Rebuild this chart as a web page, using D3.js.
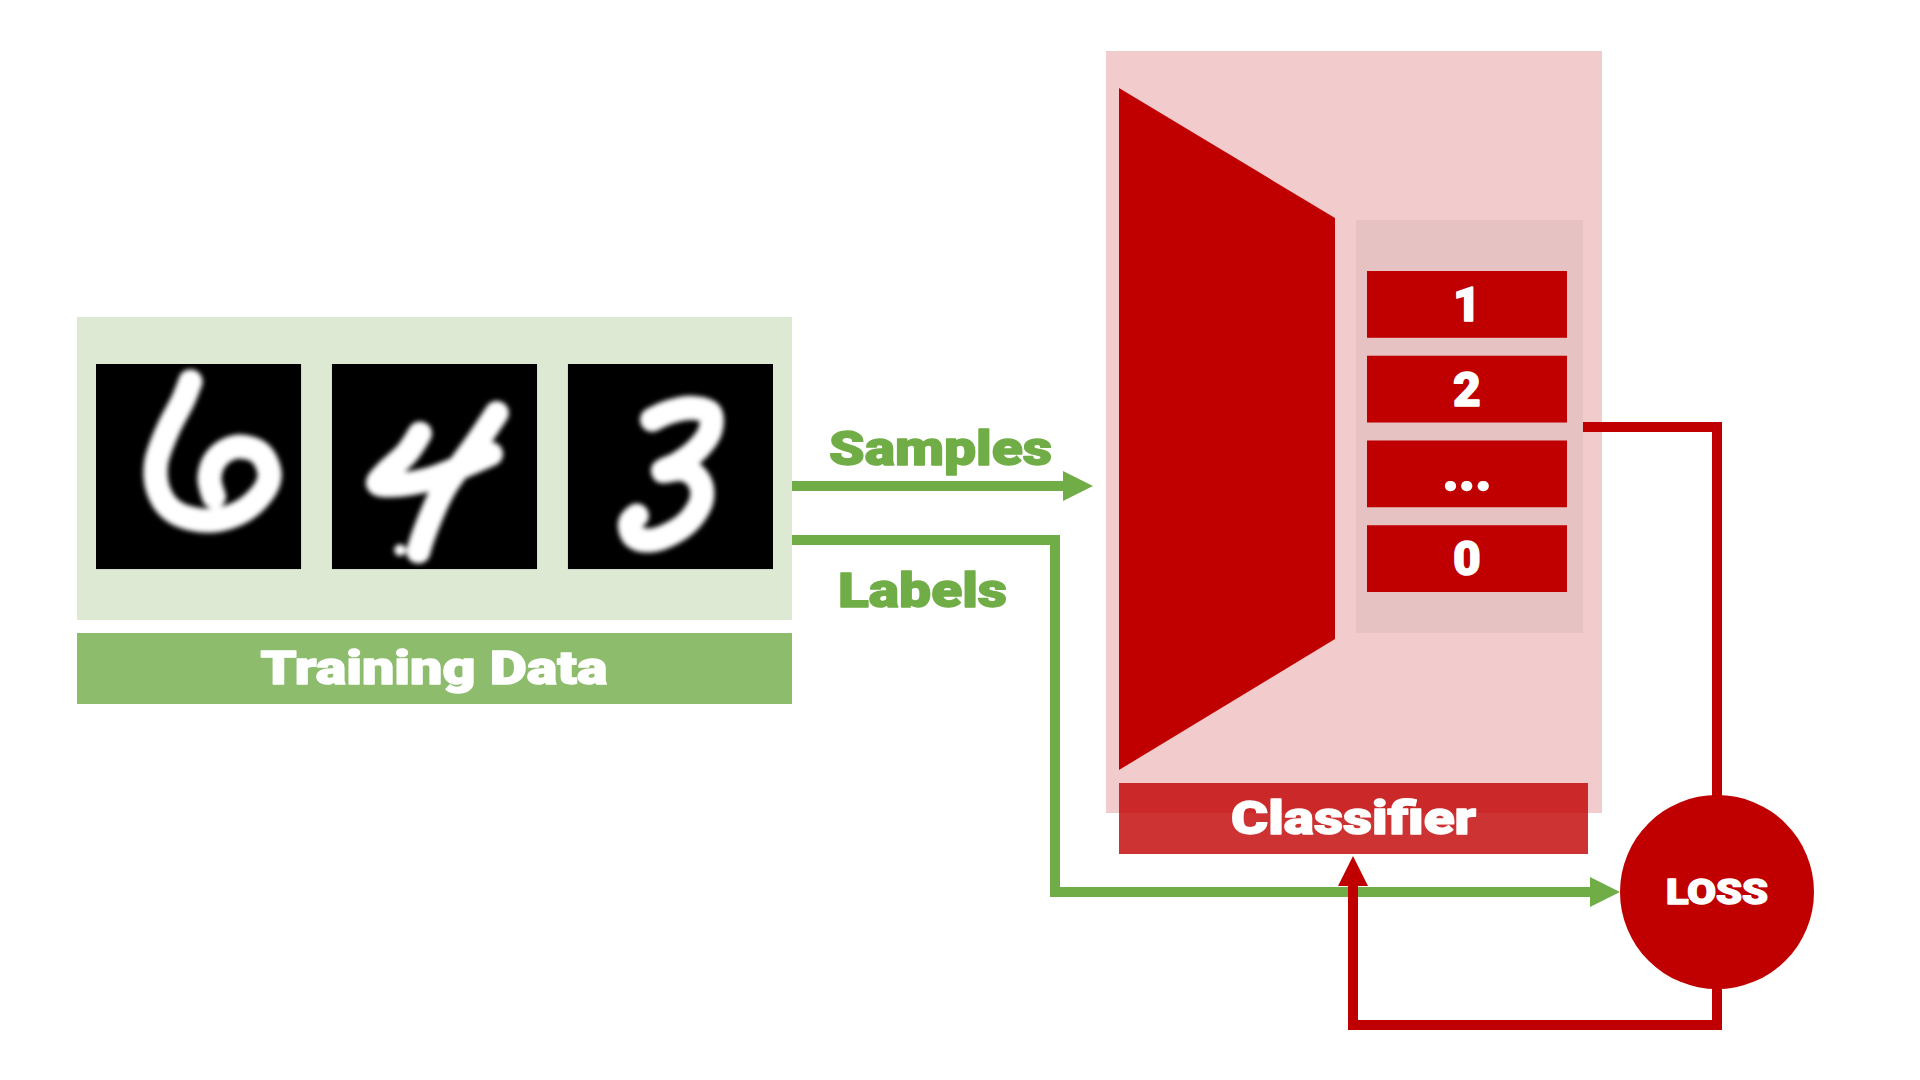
<!DOCTYPE html>
<html>
<head>
<meta charset="utf-8">
<title>Classifier training</title>
<script src="https://cdn.jsdelivr.net/npm/d3@7"></script>
<style>
    html, body { margin: 0; padding: 0; background: #fff; overflow: hidden; }
    svg { display: block; }
</style>
</head>
<body>
<svg id="chart" width="1920" height="1080"></svg>
<script>

// sample images, strokes in 28x28 MNIST pixel space
var sampleDigits   = ['6', '4', '3'];
var sixStroke      = [[12.9, 2.4], [11.9, 4.9], [9.8, 9.0], [8.2, 13.6], [8.5, 17.2], [10.3, 19.9],
                      [14.0, 21.3], [18.2, 20.9], [21.9, 18.6], [23.7, 15.4], [22.4, 12.2],
                      [19.2, 11.3], [16.6, 12.7], [15.5, 15.4], [16.1, 18.1]];
var fourBarStroke  = [[12.0, 9.5], [10.2, 12.2], [7.3, 14.9], [6.3, 16.3], [8.9, 16.5],
                      [13.1, 15.8], [17.8, 14.0], [21.7, 12.3]];
var fourStemStroke = [[22.5, 6.7], [19.4, 11.3], [15.2, 17.2], [12.6, 23.1], [11.8, 25.6]];
var fourDots       = [[9.3, 25.4]];
var threeStroke    = [[11.5, 7.6], [14.0, 6.5], [17.1, 6.0], [19.4, 6.7], [19.4, 9.2], [17.6, 11.7],
                      [14.9, 13.7], [13.0, 14.6], [15.8, 14.4], [17.8, 15.8], [18.3, 18.3],
                      [16.9, 21.0], [14.4, 23.0], [11.2, 24.1], [9.0, 23.5], [8.5, 21.7], [9.4, 20.7]];
var digitStrokes   = [[sixStroke], [fourBarStroke, fourStemStroke], [threeStroke]];
var digitDots      = [[], fourDots, []];

// classifier outputs and labels
var outputClasses  = ['1', '2', '...', '0'];
var flowLabels     = ['Samples', 'Labels'];
var blockTitles    = ['Training Data', 'Classifier'];
var lossLabel      = 'LOSS';

(function (context, d3, undefined) {

'use strict';

var GREEN = '#70ad47',
    RED   = '#c00000',
    FONT  = '"Arial Black", "Roboto", "Lato", "Inter", sans-serif';

var svg  = d3.select('#chart'),
    defs = svg.append('defs');

svg.append('rect').attr('width', 1920).attr('height', 1080).attr('fill', '#fff');

// layout boxes
var dataBox   = {x: 77, y: 317, w: 715, h: 303},
    dataTitle = {x: 77, y: 633, w: 715, h: 71},
    imgRow    = {x0: 96, x1: 773, y: 364},
    modelBox  = {x: 1106, y: 51, w: 496, h: 762},
    outBox    = {x: 1356, y: 220, w: 227, h: 413},
    modelBar  = {x: 1119, y: 783, w: 469, h: 71},
    loss      = {cx: 1717, cy: 892, r: 97};

defs.append('filter').attr('id', 'soft')
    .attr('x', '-20%').attr('y', '-20%').attr('width', '140%').attr('height', '140%')
    .append('feGaussianBlur').attr('stdDeviation', 2.6);

function addMarker(id, color) {
    defs.append('marker')
        .attr('id', id)
        .attr('viewBox', '0 0 30 30')
        .attr('refX', 0).attr('refY', 15)
        .attr('markerWidth', 30).attr('markerHeight', 30)
        .attr('markerUnits', 'userSpaceOnUse')
        .attr('orient', 'auto')
      .append('path')
        .attr('d', 'M0,0L30,15L0,30Z')
        .attr('fill', color);
}
addMarker('head-green', GREEN);
addMarker('head-red', RED);

// heavy text: a thin outline in the fill colour thickens the glyphs
function heavy(sel, color) {
    return sel
        .attr('font-family', FONT)
        .attr('font-weight', 900)
        .attr('fill', color)
        .attr('stroke', color)
        .attr('stroke-width', 1.4)
        .attr('stroke-linejoin', 'round');
}

function label(text, cx, baseline, size, color, len) {
    var t = svg.append('text')
        .attr('x', cx).attr('y', baseline)
        .attr('text-anchor', 'middle')
        .attr('font-size', size)
        .text(text);
    heavy(t, color);
    if (len) {
        t.attr('textLength', len).attr('lengthAdjust', 'spacingAndGlyphs');
    }
    return t;
}

// --- training data block ---
svg.append('rect')
    .attr('x', dataBox.x).attr('y', dataBox.y).attr('width', dataBox.w).attr('height', dataBox.h)
    .attr('fill', '#dde9d3');

svg.append('rect')
    .attr('x', dataTitle.x).attr('y', dataTitle.y).attr('width', dataTitle.w).attr('height', dataTitle.h)
    .attr('fill', '#8dbc6d');

var imgX = d3.scaleBand()
    .domain(sampleDigits)
    .range([imgRow.x0, imgRow.x1])
    .paddingInner(0.131);

var size = imgX.bandwidth();

var line = d3.line().curve(d3.curveCatmullRom.alpha(0.5));

var cells = svg.selectAll('g.digit')
    .data(sampleDigits)
  .enter().append('g')
    .attr('class', 'digit')
    .attr('transform', function (d) { return 'translate(' + imgX(d) + ',' + imgRow.y + ')'; });

cells.append('rect')
    .attr('width', size).attr('height', size)
    .attr('fill', '#000');

cells.each(function (d, i) {
    var px = d3.scaleLinear().domain([0, 28]).range([0, size]),
        g  = d3.select(this).append('g').attr('filter', 'url(#soft)');

    g.selectAll('path')
        .data(digitStrokes[i])
      .enter().append('path')
        .attr('d', function (pts) { return line(pts.map(function (p) { return [px(p[0]), px(p[1])]; })); })
        .attr('fill', 'none')
        .attr('stroke', '#fff')
        .attr('stroke-width', px(3.3))
        .attr('stroke-linecap', 'round')
        .attr('stroke-linejoin', 'round');

    g.selectAll('circle')
        .data(digitDots[i])
      .enter().append('circle')
        .attr('cx', function (p) { return px(p[0]); })
        .attr('cy', function (p) { return px(p[1]); })
        .attr('r', px(0.8))
        .attr('fill', '#fff');
});

label(blockTitles[0], dataTitle.x + 357, 684, 46, '#fff', 347);

// --- classifier block ---
svg.append('rect')
    .attr('x', modelBox.x).attr('y', modelBox.y).attr('width', modelBox.w).attr('height', modelBox.h)
    .attr('fill', '#f2cccc');

svg.append('path')
    .attr('d', 'M1119,88L1335,218L1335,639L1119,770Z')
    .attr('fill', RED);

svg.append('rect')
    .attr('x', outBox.x).attr('y', outBox.y).attr('width', outBox.w).attr('height', outBox.h)
    .attr('fill', '#e6c2c3');

var outY = d3.scaleBand()
    .domain(outputClasses)
    .range([271, 592])
    .paddingInner(0.212);

var outs = svg.selectAll('g.out')
    .data(outputClasses)
  .enter().append('g')
    .attr('class', 'out')
    .attr('transform', function (d) { return 'translate(1367,' + outY(d) + ')'; });

outs.append('rect')
    .attr('width', 200).attr('height', outY.bandwidth())
    .attr('fill', RED);

heavy(outs.append('text')
    .attr('x', 100).attr('y', 50)
    .attr('text-anchor', 'middle')
    .attr('font-size', function (d) { return d === '...' ? 54 : 48; })
    .text(function (d) { return d; }), '#fff');

svg.append('rect')
    .attr('x', modelBar.x).attr('y', modelBar.y).attr('width', modelBar.w).attr('height', modelBar.h)
    .attr('fill', RED).attr('fill-opacity', 0.8);

label(blockTitles[1], modelBar.x + 234.5, 834, 46, '#fff', 245);

// --- connectors ---
var path = d3.line();

function connector(points, color, marker) {
    return svg.append('path')
        .attr('d', path(points))
        .attr('fill', 'none')
        .attr('stroke', color)
        .attr('stroke-width', 10)
        .attr('stroke-linejoin', 'miter')
        .attr('stroke-linecap', 'butt')
        .attr('marker-end', marker ? 'url(#' + marker + ')' : null);
}

var right = dataBox.x + dataBox.w;

connector([[right, 486], [1063, 486]], GREEN, 'head-green');
connector([[right, 540], [1055, 540], [1055, loss.cy], [loss.cx - loss.r - 30, loss.cy]], GREEN, 'head-green');

connector([[outBox.x + outBox.w, 427], [loss.cx, 427], [loss.cx, loss.cy - loss.r + 5]], RED);
connector([[loss.cx, loss.cy + loss.r - 5], [loss.cx, 1025], [1353, 1025],
           [1353, modelBar.y + modelBar.h + 32]], RED, 'head-red');

svg.append('circle')
    .attr('cx', loss.cx).attr('cy', loss.cy).attr('r', loss.r)
    .attr('fill', RED);

label(lossLabel, loss.cx, 904, 35, '#fff', 102);

label(flowLabels[0], 940.5, 465, 49, GREEN, 223);
label(flowLabels[1], 922.5, 607, 49, GREEN, 169);

})(this, d3);
</script>
</body>
</html>
